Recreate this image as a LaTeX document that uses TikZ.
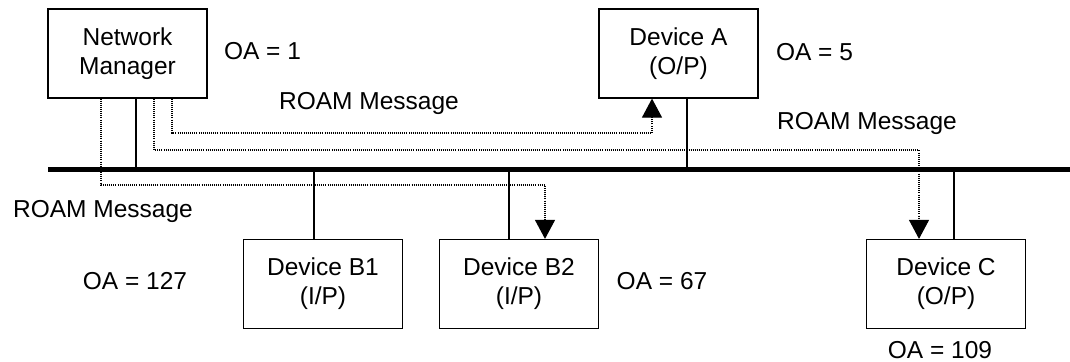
\documentclass[tikz,border=0pt]{standalone}
\usepackage{fontspec}
\setmainfont{Liberation Sans}
\usetikzlibrary{arrows.meta}
\tikzset{
  unitbox/.style={draw, line width=0.6pt, minimum width=79.5pt, minimum height=44.5pt,
    align=center, inner sep=0pt},
  lbl/.style={anchor=base, inner sep=0pt},
  tap/.style={line width=0.6pt},
  bus/.style={line width=2.6pt},
  msg/.style={line width=0.55pt, dash pattern=on 0.5pt off 0.55pt,
    -{Triangle[width=10pt,length=9.5pt]}}
}
\begin{document}
\begin{tikzpicture}[x=0.5pt, y=-0.5pt, font=\fontsize{12.25}{14.5}\selectfont]
\useasboundingbox (0,0) rectangle (1070,362);

% stations
\node[unitbox] (nm) at (127.5,53.5) {Network\\Manager};
\node[unitbox] (da) at (678.5,53.5) {Device A\\(O/P)};
\node[unitbox] (b1) at (323,284) {Device B1\\(I/P)};
\node[unitbox] (b2) at (519,284) {Device B2\\(I/P)};
\node[unitbox] (dc) at (946,284) {Device C\\(O/P)};

% addresses and message labels
\node[lbl] (oa1)   at (262.5,60)  {OA = 1};
\node[lbl] (oa5)   at (814.5,61)  {OA = 5};
\node[lbl] (oa127) at (135,290)   {OA = 127};
\node[lbl] (oa67)  at (662,290)   {OA = 67};
\node[lbl] (oa109) at (940,358.5) {OA = 109};
\node[lbl] (rm1) at (369,110) {ROAM Message};
\node[lbl] (rm2) at (867,130) {ROAM Message};
\node[lbl] (rm3) at (103,218) {ROAM Message};

% bus
\coordinate (busL) at (48,169.5);
\coordinate (busR) at (1070,169.5);
\draw[bus] (busL) -- (busR);

% taps on the bus
\coordinate (tnm) at (136,169.5);
\coordinate (tda) at (687,169.5);
\coordinate (tb1) at (314,169.5);
\coordinate (tb2) at (509,169.5);
\coordinate (tdc) at (954,169.5);
\draw[tap] (tnm |- nm.south) -- (tnm);
\draw[tap] (tda |- da.south) -- (tda);
\draw[tap] (tb1) -- (tb1 |- b1.north);
\draw[tap] (tb2) -- (tb2 |- b2.north);
\draw[tap] (tdc) -- (tdc |- dc.north);

% message routes
\coordinate (r1a) at (172,133);
\coordinate (r1b) at (652,133);
\coordinate (r2a) at (154,150);
\coordinate (r2b) at (919,150);
\coordinate (r3a) at (101,185);
\coordinate (r3b) at (545,185);
\draw[msg] (r1a |- nm.south) -- (r1a) -- (r1b) -- (r1b |- da.south);
\draw[msg] (r2a |- nm.south) -- (r2a) -- (r2b) -- (r2b |- dc.north);
\draw[msg] (r3a |- nm.south) -- (r3a) -- (r3b) -- (r3b |- b2.north);
\end{tikzpicture}
\end{document}
